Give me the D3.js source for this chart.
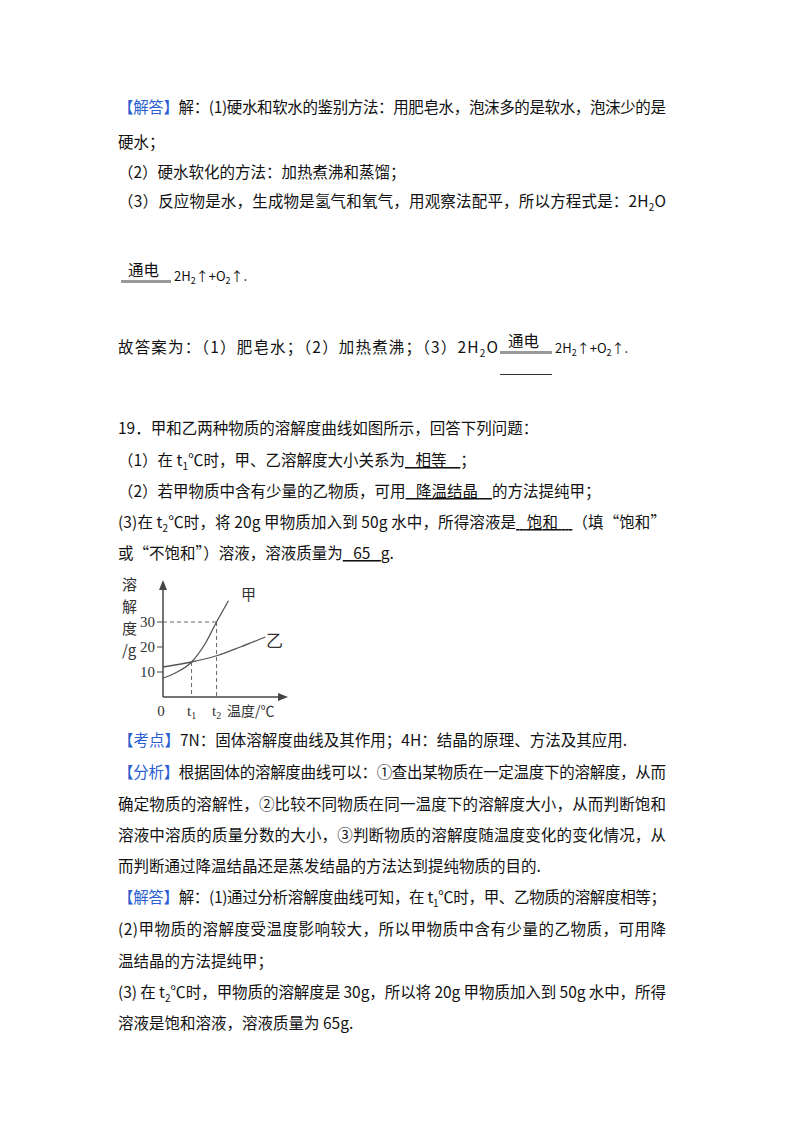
<!DOCTYPE html>
<html><head><meta charset="utf-8">
<script src="https://cdn.jsdelivr.net/npm/d3@7"></script>
<style>
body{margin:0;background:#fff;}
text{font-family:"Noto Sans CJK SC","Noto Sans",sans-serif;font-size:15.5px;fill:#111;}
.blue{fill:#2b5fd0;}
.u{text-decoration:underline;}
.ch text{font-family:"Liberation Serif","Noto Sans CJK SC",serif;font-size:15px;fill:#333;}
</style></head><body>
<svg id="page" width="800" height="1132"></svg>
<script>
// temperature (0..100 on the x axis) and solubility in g
var jiaT = [0, 10, 24, 35, 45, 55];
var jiaS = [7.5, 9.5, 14, 21, 30, 38.5];
var yiT = [0, 24, 45, 65, 86];
var yiS = [12, 14, 16.5, 20, 24];
var yTicks = [10, 20, 30];
var t1 = 24, t2 = 45;

var svg = d3.select("#page");

/*
  Text lines: [y, segments, justify width]
*/
function line(y, segs, full){
  var t = svg.append("text").attr("x", 118).attr("y", y);
  segs.forEach(function(s){
    if(typeof s == "string") s = {t: s};
    var sp = t.append("tspan").text(s.t);
    if(s.c) sp.attr("class", s.c);
    if(s.sub){ sp.attr("dy", 4).style("font-size", "10px"); }
    if(s.up){ sp.attr("dy", -4); }
  });
  if(full) t.attr("textLength", full === true ? 548 : full).attr("lengthAdjust", "spacing");
  return t;
}

line(113, [{t:"【解答】", c:"blue"}, "解：(1)硬水和软水的鉴别方法：用肥皂水，泡沫多的是软水，泡沫少的是"], true);
line(148, ["硬水；"]);
line(178, ["（2）硬水软化的方法：加热煮沸和蒸馏；"]);
line(207, ["（3）反应物是水，生成物是氢气和氧气，用观察法配平，所以方程式是：2H",{t:"2",sub:1},{t:"O",up:1}], true);

// first 通电 formula
svg.append("text").attr("x", 128).attr("y", 276).text("通电");
svg.append("rect").attr("x", 121).attr("y", 280).attr("width", 50).attr("height", 3).attr("fill", "#999");
svg.append("text").attr("x", 174).attr("y", 281).style("font-size","13px")
  .html('2H<tspan dy="3" style="font-size:9px">2</tspan><tspan dy="-3">↑+O</tspan><tspan dy="3" style="font-size:9px">2</tspan><tspan dy="-3">↑.</tspan>');

line(353, ["故答案为：（1）肥皂水；（2）加热煮沸；（3）2H",{t:"2",sub:1},{t:"O",up:1}], 380);
svg.append("text").attr("x", 508).attr("y", 347).text("通电");
svg.append("rect").attr("x", 500).attr("y", 351).attr("width", 52).attr("height", 3).attr("fill", "#999");
svg.append("rect").attr("x", 500).attr("y", 374).attr("width", 52).attr("height", 1).attr("fill", "#333");
svg.append("text").attr("x", 555).attr("y", 353).style("font-size","13px")
  .html('2H<tspan dy="3" style="font-size:9px">2</tspan><tspan dy="-3">↑+O</tspan><tspan dy="3" style="font-size:9px">2</tspan><tspan dy="-3">↑.</tspan>');

line(434, ["19．甲和乙两种物质的溶解度曲线如图所示，回答下列问题："]);
line(466, ["（1）在 t",{t:"1",sub:1},{t:"℃时，甲、乙溶解度大小关系为",up:1},{t:"\u00a0\u00a0\u00a0相等\u00a0\u00a0\u00a0\u00a0",c:"u"},"；"]);
line(497, ["（2）若甲物质中含有少量的乙物质，可用",{t:"\u00a0\u00a0\u00a0降温结晶\u00a0\u00a0\u00a0\u00a0",c:"u"},"的方法提纯甲；"]);
line(528, ["(3)在 t",{t:"2",sub:1},{t:"℃时，将 20g 甲物质加入到 50g 水中，所得溶液是",up:1},{t:"\u00a0\u00a0\u00a0饱和\u00a0\u00a0\u00a0\u00a0",c:"u"},"（填“饱和”"], true);
line(559, ["或“不饱和”）溶液，溶液质量为",{t:"\u00a0\u00a0\u00a065\u00a0\u00a0\u00a0",c:"u"},"g."]);

line(746, [{t:"【考点】",c:"blue"}, "7N：固体溶解度曲线及其作用；4H：结晶的原理、方法及其应用."]);
line(778, [{t:"【分析】",c:"blue"}, "根据固体的溶解度曲线可以：①查出某物质在一定温度下的溶解度，从而"], true);
line(810, ["确定物质的溶解性，②比较不同物质在同一温度下的溶解度大小，从而判断饱和"], true);
line(841, ["溶液中溶质的质量分数的大小，③判断物质的溶解度随温度变化的变化情况，从"], true);
line(872, ["而判断通过降温结晶还是蒸发结晶的方法达到提纯物质的目的."]);
line(903, [{t:"【解答】",c:"blue"}, "解：(1)通过分析溶解度曲线可知，在 t",{t:"1",sub:1},{t:"℃时，甲、乙物质的溶解度相等；",up:1}], true);
line(935, ["(2)甲物质的溶解度受温度影响较大，所以甲物质中含有少量的乙物质，可用降"], true);
line(967, ["温结晶的方法提纯甲；"]);
line(998, ["(3) 在 t",{t:"2",sub:1},{t:"℃时，甲物质的溶解度是 30g，所以将 20g 甲物质加入到 50g 水中，所得",up:1}], true);
line(1029, ["溶液是饱和溶液，溶液质量为 65g."]);

// chart
var x = d3.scaleLinear().domain([0, 100]).range([163, 282]);
var y = d3.scaleLinear().domain([0, 10]).range([697, 672]);
var g = svg.append("g").attr("class", "ch");
var ax = "#444";

g.append("line").attr("x1", x(0)).attr("x2", x(0)).attr("y1", y(0)).attr("y2", 588).attr("stroke", ax).attr("stroke-width", 1.5);
g.append("path").attr("d", "M" + x(0) + ",580l-4,10h8z").attr("fill", ax);
g.append("line").attr("x1", x(0)).attr("x2", 280).attr("y1", y(0)).attr("y2", y(0)).attr("stroke", ax).attr("stroke-width", 1.5);
g.append("path").attr("d", "M288," + y(0) + "l-10,-4v8z").attr("fill", ax);

yTicks.forEach(function(v){
  g.append("line").attr("x1", x(0) - 6).attr("x2", x(0)).attr("y1", y(v)).attr("y2", y(v)).attr("stroke", ax);
  g.append("text").attr("x", x(0) - 8).attr("y", y(v) + 5).attr("text-anchor", "end").text(v);
});

// dashed guides
function dl(x1, y1, x2, y2){
  g.append("line").attr("x1", x1).attr("y1", y1).attr("x2", x2).attr("y2", y2)
    .attr("stroke", "#666").attr("stroke-dasharray", "4,3");
}
dl(x(0), y(30), x(t2), y(30));
dl(x(t2), y(30), x(t2), y(0));
dl(x(t1), y(14), x(t1), y(0));

var lineGen = d3.line().x(function(d){ return x(d[0]); }).y(function(d){ return y(d[1]); }).curve(d3.curveMonotoneX);
g.append("path").datum(d3.zip(jiaT, jiaS)).attr("d", lineGen).attr("fill", "none").attr("stroke", "#555").attr("stroke-width", 1.3);
g.append("path").datum(d3.zip(yiT, yiS)).attr("d", lineGen).attr("fill", "none").attr("stroke", "#555").attr("stroke-width", 1.3);

g.append("text").attr("x", 241).attr("y", 600).style("font-family", "Noto Sans CJK SC").text("甲");
g.append("text").attr("x", 266).attr("y", 647).style("font-family", "Noto Sans CJK SC").style("font-size", "17px").text("乙");

["溶", "解", "度", "/g"].forEach(function(s, i){
  g.append("text").attr("x", 122).attr("y", 590 + i * 22).style("font-family", "Noto Sans CJK SC").text(s);
});
g.append("text").attr("x", x(0) - 2).attr("y", 716).attr("text-anchor", "middle").text("0");
g.append("text").attr("x", x(t1)).attr("y", 716).attr("text-anchor", "middle").html('t<tspan style="font-size:10px" dy="3">1</tspan>');
g.append("text").attr("x", x(t2)).attr("y", 716).attr("text-anchor", "middle").html('t<tspan style="font-size:10px" dy="3">2</tspan>');
g.append("text").attr("x", 227).attr("y", 716).style("font-family", "Noto Sans CJK SC").style("font-size", "14px").text("温度/℃");
</script>
</body></html>
